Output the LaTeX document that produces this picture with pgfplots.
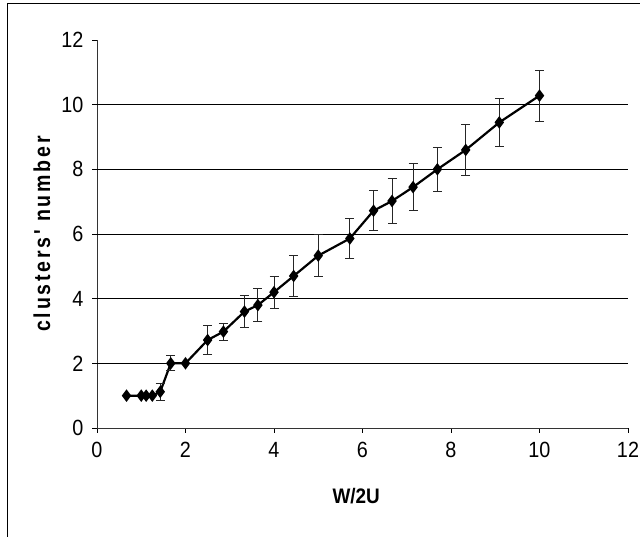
\documentclass[border=0pt]{standalone}
\usepackage{fontspec}
\setmainfont{Liberation Sans}[FakeStretch=0.9]
\newfontfamily\spacedfont[LetterSpace=12, FakeStretch=0.85]{Liberation Sans}
\usepackage{pgfplots}
\usepackage{pgfplotstable}
\pgfplotsset{compat=1.18}

% W/2U, clusters' number, error
\pgfplotstableread{
x      y     ey
0.667  1.00  0
1.000  1.00  0
1.111  1.00  0
1.250  1.00  0
1.429  1.12  0.27
1.667  2.00  0.23
2.000  2.00  0
2.500  2.72  0.46
2.857  2.98  0.26
3.333  3.60  0.50
3.636  3.80  0.50
4.000  4.20  0.50
4.444  4.70  0.62
5.000  5.33  0.65
5.714  5.86  0.62
6.250  6.72  0.62
6.667  7.02  0.70
7.143  7.45  0.73
7.692  8.00  0.69
8.333  8.60  0.79
9.091  9.45  0.74
10.000 10.28 0.79
}\clusters

\begin{document}
\begin{tikzpicture}[x=1pt,y=1pt]
\path[use as bounding box] (-97,-109) rectangle (543,428);
\draw[black, line width=1pt] (-89,-109) -- (-89,424) -- (543,424);
\begin{axis}[
  at={(0,0)}, anchor=south west,
  scale only axis, width=531pt, height=388pt,
  xmin=0, xmax=12, ymin=0, ymax=12,
  axis x line*=bottom, axis y line*=left,
  xtick={0,2,...,12}, ytick={0,2,...,12},
  tick align=outside, major tick length=5pt,
  extra y ticks={2,4,6,8,10}, extra y tick labels={},
  extra y tick style={grid=major, major tick length=0pt},
  major grid style={black, line width=0.8pt},
  tick style={black, line width=0.8pt},
  axis line style={black!80, line width=0.8pt},
  tick label style={font=\fontsize{22}{24}\selectfont},
  xticklabel style={yshift=-6pt},
  yticklabel style={xshift=-5pt},
  /pgf/number format/assume math mode=true,
  xlabel={\bfseries W/2U},
  ylabel={\spacedfont\bfseries clusters' number},
  x label style={font=\fontsize{21}{23}\selectfont,
    at={(axis description cs:0.488,-0.1753)}, anchor=center},
  y label style={font=\fontsize{23}{25}\selectfont,
    at={(axis description cs:-0.1036,0.5)}, anchor=center},
]
\addplot[black, line width=2.2pt, mark=diamond*, mark size=4.5pt,
  error bars/.cd, y dir=both, y explicit,
  error bar style={black!85, line width=1pt},
  error mark options={black!85, line width=1pt, mark size=4.5pt, rotate=90}]
  table[x=x, y=y, y error=ey] {\clusters};
\end{axis}
\end{tikzpicture}
\end{document}
